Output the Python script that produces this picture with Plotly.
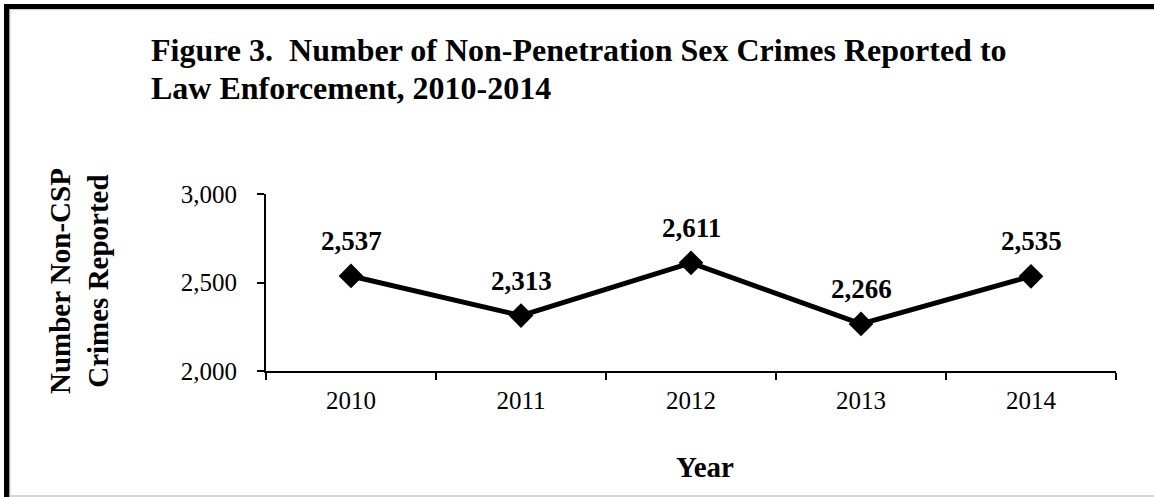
import plotly.graph_objects as go

years = ["2010", "2011", "2012", "2013", "2014"]
counts = [2537, 2313, 2611, 2266, 2535]
y_ticks = [2000, 2500, 3000]

W, H = 1154, 497
L, R, T, B = 266, 38, 194, 126
PW, PH = W - L - R, H - T - B
FONT = "Liberation Serif"


def px_x(x):
    return (x - L) / PW


def px_y(y):
    return (H - B - y) / PH


fig = go.Figure()
fig.add_trace(go.Scatter(
    x=years, y=counts, mode="lines+markers",
    line=dict(color="black", width=5),
    marker=dict(symbol="diamond", size=19, color="black"),
    cliponaxis=False, showlegend=False, hoverinfo="skip",
))

for i, v in enumerate(counts):
    fig.add_annotation(x=i, y=v, text=f"<b>{v:,}</b>", showarrow=False,
                       yanchor="middle", yshift=35,
                       font=dict(family=FONT, size=27, color="black"))

# title (two lines)
for line_text, ypx in [("Figure 3.  Number of Non-Penetration Sex Crimes Reported to", 50),
                       ("Law Enforcement, 2010-2014", 88)]:
    fig.add_annotation(xref="paper", yref="paper", x=px_x(149), y=px_y(ypx),
                       xanchor="left", yanchor="middle", align="left", showarrow=False,
                       text=f"<b>{line_text}</b>",
                       font=dict(family=FONT, size=32, color="black"))

# y axis title
fig.add_annotation(xref="paper", yref="paper", x=px_x(79), y=px_y(281),
                   xanchor="center", yanchor="middle", showarrow=False, textangle=-90,
                   text="<b>Number Non-CSP<br>Crimes Reported</b>",
                   font=dict(family=FONT, size=29, color="black"))

# x axis title
fig.add_annotation(xref="paper", yref="paper", x=px_x(705), y=px_y(467),
                   xanchor="center", yanchor="middle", showarrow=False,
                   text="<b>Year</b>",
                   font=dict(family=FONT, size=29, color="black"))

# frame
fig.add_shape(type="rect", xref="paper", yref="paper", x0=px_x(4), x1=px_x(1160),
              y0=px_y(4), y1=px_y(9), fillcolor="black", line_width=0, layer="above")
fig.add_shape(type="rect", xref="paper", yref="paper", x0=px_x(4), x1=px_x(9.5),
              y0=px_y(4), y1=px_y(500), fillcolor="black", line_width=0, layer="above")
fig.add_shape(type="line", xref="paper", yref="paper", x0=px_x(10), x1=px_x(1160),
              y0=px_y(9.7), y1=px_y(9.7), line=dict(color="#c8c8c8", width=1))
fig.add_shape(type="line", xref="paper", yref="paper", x0=px_x(10), x1=px_x(10),
              y0=px_y(10), y1=px_y(497), line=dict(color="#c8c8c8", width=1))
fig.add_shape(type="line", xref="paper", yref="paper", x0=px_x(10), x1=px_x(1160),
              y0=px_y(496), y1=px_y(496), line=dict(color="#c8c8c8", width=1.5))

fig.update_layout(
    width=W, height=H,
    margin=dict(l=L, r=R, t=T, b=B, pad=0),
    paper_bgcolor="white", plot_bgcolor="white",
    font=dict(family=FONT, size=25, color="black"),
    xaxis=dict(type="category", range=[-0.5, 4.5], showline=True, linecolor="black",
               linewidth=2, ticks="outside", tickson="boundaries", ticklen=7,
               tickwidth=2, tickcolor="black", showgrid=False, zeroline=False,
               ticklabelstandoff=6,
               tickfont=dict(family=FONT, size=25, color="black")),
    yaxis=dict(range=[2000, 3000], tickvals=y_ticks,
               ticktext=[f"{t:,}" for t in y_ticks], showline=True, linecolor="black",
               linewidth=2, ticks="outside", ticklen=7, tickwidth=2, tickcolor="black",
               showgrid=False, zeroline=False, ticklabelstandoff=15,
               tickfont=dict(family=FONT, size=25, color="black")),
)

fig.write_html("out.html", config={"displayModeBar": False},
               post_script="document.body.style.margin='0';")
